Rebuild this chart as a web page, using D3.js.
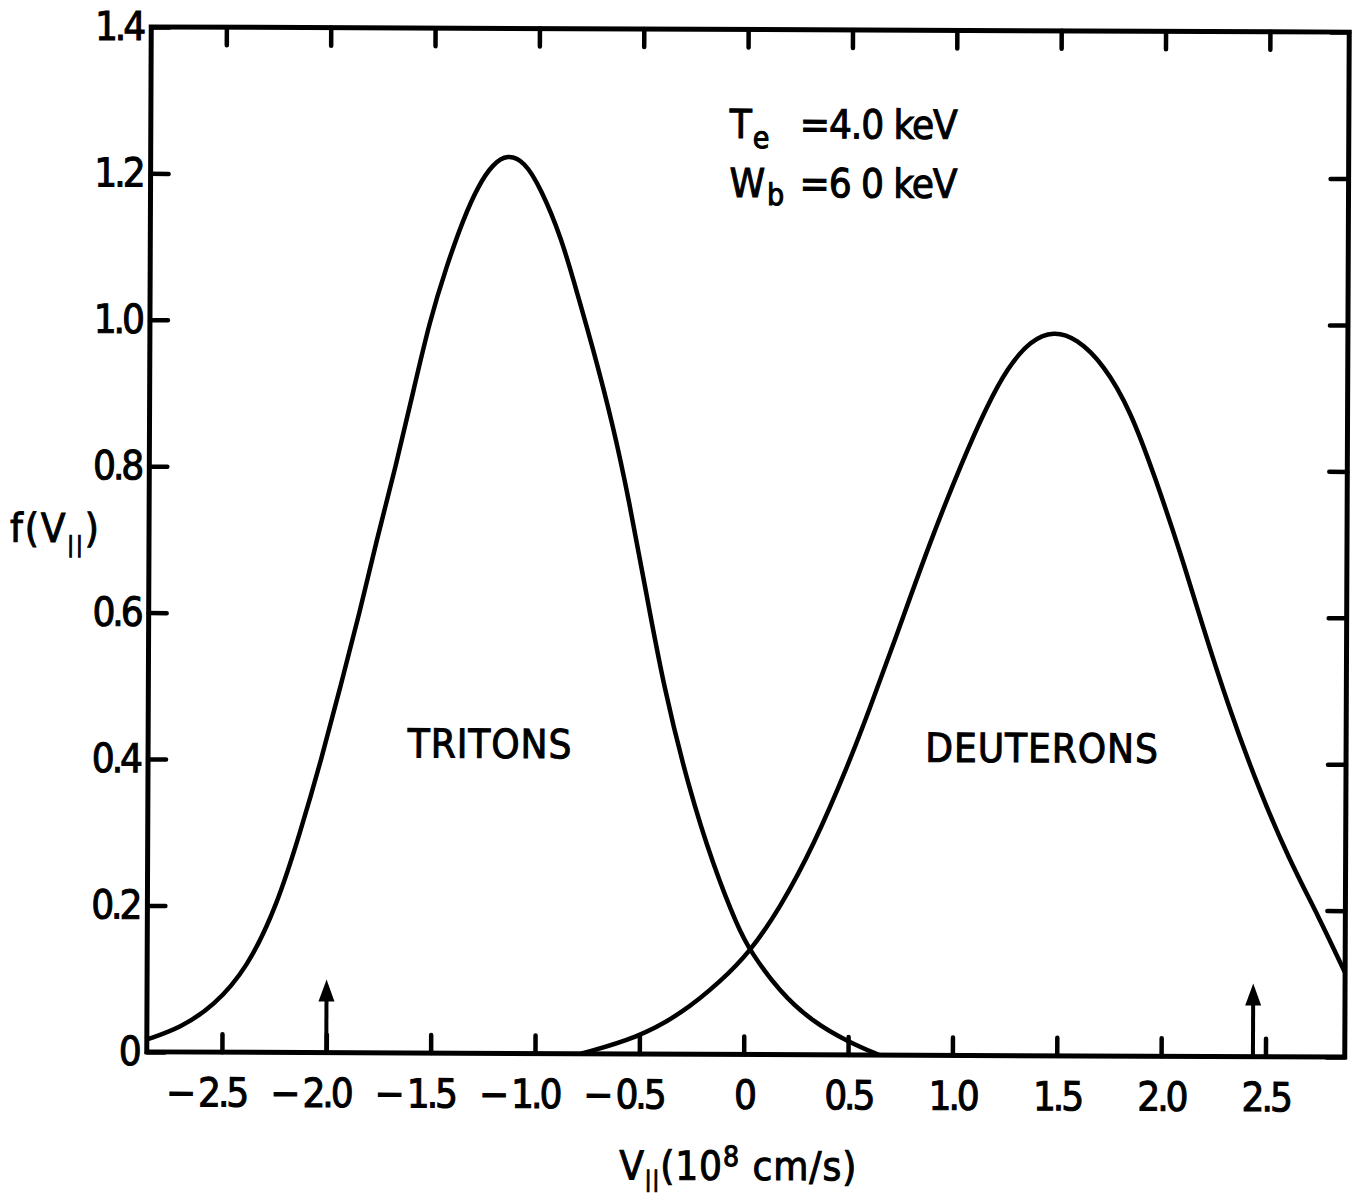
<!DOCTYPE html>
<html>
<head>
<meta charset="utf-8">
<script src="https://cdn.jsdelivr.net/npm/d3@7"></script>
<style>
  body { margin: 0; background: #fff; }
  text { font-family: "DejaVu Sans Condensed", "Liberation Sans Narrow", "Liberation Sans", sans-serif; fill: #000; stroke: #000; stroke-width: 1px; }
</style>
</head>
<body>
<script>
const W = 1357, H = 1196;
const FS = 40;           // lettering size
const TICK = 18;         // inward tick length

// velocity (10^8 cm/s) and f(v) for each species
const tritonV = [-2.86, -2.70, -2.54, -2.38, -2.24, -2.13, -2.03, -1.94, -1.85, -1.77, -1.68, -1.60, -1.52, -1.44, -1.36, -1.29, -1.22, -1.15, -1.07, -0.99, -0.89, -0.82, -0.74, -0.64, -0.56, -0.48, -0.39, -0.27, -0.15, -0.03, 0.03, 0.17, 0.33, 0.50, 0.65];
const tritonF = [0.017, 0.033, 0.063, 0.115, 0.200, 0.300, 0.400, 0.500, 0.600, 0.700, 0.800, 0.900, 1.000, 1.075, 1.140, 1.185, 1.215, 1.228, 1.219, 1.182, 1.114, 1.045, 0.967, 0.860, 0.755, 0.635, 0.500, 0.365, 0.258, 0.173, 0.141, 0.086, 0.045, 0.018, 0.0];

const deuteronV = [-0.78, -0.51, -0.30, -0.11, 0.03, 0.17, 0.33, 0.50, 0.59, 0.72, 0.88, 1.04, 1.15, 1.25, 1.36, 1.47, 1.58, 1.71, 1.84, 1.96, 2.08, 2.18, 2.32, 2.465, 2.61, 2.755, 2.88];
const deuteronF = [0.0, 0.022, 0.055, 0.10, 0.141, 0.20, 0.285, 0.40, 0.468, 0.57, 0.70, 0.815, 0.886, 0.94, 0.977, 0.99, 0.98, 0.945, 0.882, 0.79, 0.69, 0.597, 0.474, 0.364, 0.269, 0.19, 0.115];

// beam velocity markers
const arrowV = [-2.0, 2.44];
const arrowF = 0.1;

const xTicks = [-2.5, -2.0, -1.5, -1.0, -0.5, 0, 0.5, 1.0, 1.5, 2.0, 2.5];
const yTicks = [0, 0.2, 0.4, 0.6, 0.8, 1.0, 1.2, 1.4];

const svg = d3.select("body").append("svg")
  .attr("width", W)
  .attr("height", H);

// the whole sheet sits a hair off square
const g = svg.append("g").attr("transform", "rotate(0.25,748,542)");

const x = d3.scaleLinear().domain([-2.86, 2.88]).range([149, 1347]);
const y = d3.scaleLinear().domain([0, 1.4]).range([1054.5, 29.5]);

const fmtX = d => d === 0 ? "0" : d3.format(".1f")(Math.abs(d));
const fmtY = d => d === 0 ? "0" : d3.format(".1f")(d);

var styleAxis = (sel) => {
  sel.select(".domain").remove();
  sel.selectAll(".tick line")
    .attr("stroke", "#000")
    .attr("stroke-width", 4.5)
    .attr("stroke-linecap", "round");
  sel.selectAll(".tick text")
    .attr("font-size", FS)
    .attr("letter-spacing", -3)
    .attr("font-family", null);
};

// bottom axis, numbers centred on the tick with the minus hanging left
const xb = g.append("g")
  .attr("transform", `translate(0,${y(0)})`)
  .call(d3.axisBottom(x).tickValues(xTicks).tickSize(-TICK).tickPadding(26).tickFormat(fmtX))
  .call(styleAxis);

xb.selectAll(".tick").each(function(d) {
  if (d >= 0) return;
  const t = d3.select(this).select("text");
  const w = t.node().getComputedTextLength();
  d3.select(this).append("text")
    .text("\u2212")
    .attr("font-size", FS)
    .attr("text-anchor", "end")
    .attr("x", -w / 2 - 2)
    .attr("y", t.attr("y"))
    .attr("dy", t.attr("dy"));
});

g.append("g")
  .attr("transform", `translate(0,${y(1.4)})`)
  .call(d3.axisTop(x).tickValues(xTicks).tickSize(-TICK).tickFormat(""))
  .call(styleAxis);

g.append("g")
  .attr("transform", `translate(${x.range()[0]},0)`)
  .call(d3.axisLeft(y).tickValues(yTicks).tickSize(-TICK).tickPadding(8).tickFormat(fmtY))
  .call(styleAxis);

g.append("g")
  .attr("transform", `translate(${x.range()[1]},0)`)
  .call(d3.axisRight(y).tickValues(yTicks).tickSize(-TICK).tickFormat(""))
  .call(styleAxis);

// frame
g.append("rect")
  .attr("x", x.range()[0])
  .attr("y", y(1.4))
  .attr("width", x.range()[1] - x.range()[0])
  .attr("height", y(0) - y(1.4))
  .attr("fill", "none")
  .attr("stroke", "#000")
  .attr("stroke-width", 5);

// distribution curves
const line = d3.line()
  .x(d => x(d[0]))
  .y(d => y(d[1]))
  .curve(d3.curveBasis);

[[tritonV, tritonF], [deuteronV, deuteronF]].forEach(([vs, fs]) => {
  g.append("path")
    .datum(d3.zip(vs, fs))
    .attr("d", line)
    .attr("fill", "none")
    .attr("stroke", "#000")
    .attr("stroke-width", 4.5)
    .attr("stroke-linejoin", "round");
});

// arrows
arrowV.forEach(v => {
  const ax = x(v), top = y(arrowF);
  g.append("line")
    .attr("x1", ax).attr("x2", ax)
    .attr("y1", y(0)).attr("y2", top + 14)
    .attr("stroke", "#000")
    .attr("stroke-width", 4);
  g.append("path")
    .attr("d", `M${ax},${top} L${ax - 8},${top + 22} L${ax + 8},${top + 22} Z`)
    .attr("fill", "#000");
});

// curve labels
g.append("text")
  .text("TRITONS")
  .attr("x", 491).attr("y", 759)
  .attr("text-anchor", "middle")
  .attr("font-size", FS)
  .attr("letter-spacing", 1);

g.append("text")
  .text("DEUTERONS")
  .attr("x", 1043).attr("y", 761)
  .attr("text-anchor", "middle")
  .attr("font-size", FS)
  .attr("letter-spacing", 1);

// parameters
const te = g.append("text").attr("x", 728).attr("y", 138).attr("font-size", FS);
te.append("tspan").text("T");
te.append("tspan").text("e").attr("font-size", 30).attr("dy", 10).attr("dx", 1);
g.append("text").text("=4.0 keV").attr("x", 798).attr("y", 138).attr("font-size", FS).attr("letter-spacing", -1);

const wb = g.append("text").attr("x", 728).attr("y", 197).attr("font-size", FS);
wb.append("tspan").text("W");
wb.append("tspan").text("b").attr("font-size", 30).attr("dy", 8).attr("dx", 2);
g.append("text").text("=6 0 keV").attr("x", 798).attr("y", 197).attr("font-size", FS).attr("letter-spacing", -1);

// axis titles
const yl = g.append("text").attr("x", 10).attr("y", 545).attr("font-size", FS).attr("letter-spacing", 2);
yl.append("tspan").text("f(V");
yl.append("tspan").text("||").attr("font-size", 22).attr("dy", 10);
yl.append("tspan").text(")").attr("dy", -10);

const xl = g.append("text").attr("x", 622).attr("y", 1180).attr("font-size", FS).attr("letter-spacing", 1);
xl.append("tspan").text("V");
xl.append("tspan").text("||").attr("font-size", 22).attr("dy", 7);
xl.append("tspan").text("(10").attr("dy", -7);
xl.append("tspan").text("8").attr("font-size", 28).attr("dy", -14);
xl.append("tspan").text(" cm/s)").attr("dy", 14);
</script>
</body>
</html>
